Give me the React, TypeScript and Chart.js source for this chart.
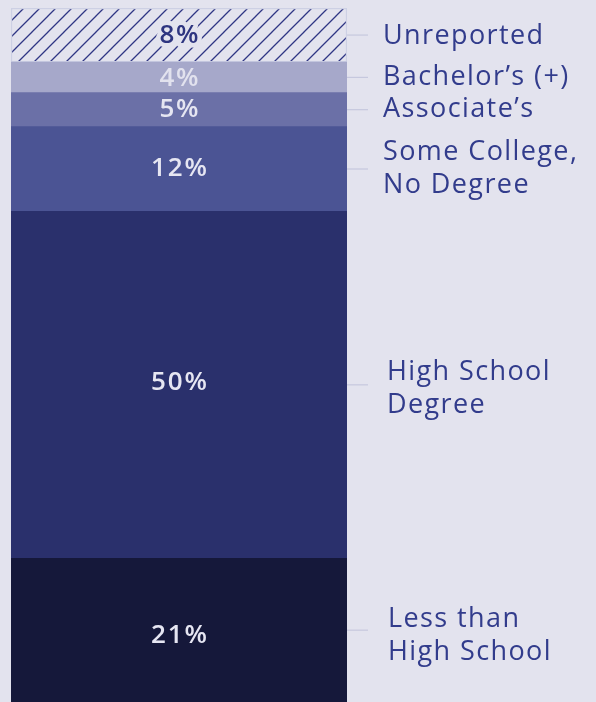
import React, { useEffect, useRef } from "react";
import { Chart, registerables } from "chart.js";

Chart.register(...registerables);

// Data, bottom of the stack first
const categories = [
  "Less than High School",
  "High School Degree",
  "Some College, No Degree",
  "Associate’s",
  "Bachelor’s (+)",
  "Unreported",
];
const labelLines = [
  ["Less than", "High School"],
  ["High School", "Degree"],
  ["Some College,", "No Degree"],
  ["Associate’s"],
  ["Bachelor’s (+)"],
  ["Unreported"],
];
const shares = [20.7, 50.0, 12.2, 4.9, 4.4, 7.8];
const percentLabels = ["21%", "50%", "12%", "5%", "4%", "8%"];

const BG = "#e3e3ee";
const fills = ["#15183a", "#2a306c", "#4b5494", "#6b70a7", "#a6a8ca", "hatch"];
const pctColors = ["#e6e6f2", "#e6e6f2", "#e6e6f2", "#e6e6f2", "#e2e2ee", "#2e3580"];
const LABEL_COLOR = "#323c8c";
const LINE_COLOR = "#c6c8de";
// small per-label nudges [dx, dy]
const labelNudge = [
  [5, 6],
  [4, 4],
  [0, 0],
  [0, 0],
  [0, 0],
  [0, 1],
];
const pctNudge = [5, -2, 0, 0, 1, 1];

function makeHatch(): CanvasPattern | string {
  const c = document.createElement("canvas");
  c.width = 16;
  c.height = 16;
  const g = c.getContext("2d");
  if (!g) return BG;
  g.fillStyle = BG;
  g.fillRect(0, 0, 16, 16);
  g.strokeStyle = "#2f3684";
  g.lineWidth = 1.3;
  g.beginPath();
  g.moveTo(-2, 18);
  g.lineTo(18, -2);
  g.moveTo(-2, 2);
  g.lineTo(2, -2);
  g.moveTo(14, 18);
  g.lineTo(18, 14);
  g.stroke();
  return g.createPattern(c, "repeat") || BG;
}

const labelPlugin = {
  id: "segLabels",
  afterDatasetsDraw(chart: any) {
    const ctx = chart.ctx;
    ctx.save();
    chart.data.datasets.forEach((_ds: any, i: number) => {
      const el: any = chart.getDatasetMeta(i).data[0];
      if (!el) return;
      const top = Math.min(el.y, el.base);
      const bot = Math.max(el.y, el.base);
      const mid = (top + bot) / 2;
      const right = el.x + el.width / 2;
      // percent text
      const sp = 1.8;
      ctx.font = "600 26px 'Open Sans'";
      (ctx as any).letterSpacing = sp + "px";
      ctx.textAlign = "center";
      ctx.textBaseline = "middle";
      const py = mid + pctNudge[i];
      if (fills[i] === "hatch") {
        ctx.strokeStyle = BG;
        ctx.lineWidth = 9;
        ctx.lineJoin = "round";
        ctx.strokeText(percentLabels[i], el.x + sp / 2, py);
      }
      ctx.fillStyle = pctColors[i];
      ctx.fillText(percentLabels[i], el.x + sp / 2, py);
      (ctx as any).letterSpacing = "0px";
      // connector
      ctx.strokeStyle = LINE_COLOR;
      ctx.lineWidth = 1.2;
      ctx.beginPath();
      ctx.moveTo(right, mid);
      ctx.lineTo(right + 21, mid);
      ctx.stroke();
      // category label
      const lines = labelLines[i];
      const lh = 33;
      ctx.font = "400 27px 'Open Sans'";
      (ctx as any).letterSpacing = "1.4px";
      ctx.fillStyle = LABEL_COLOR;
      ctx.textAlign = "left";
      const startY = mid - ((lines.length - 1) * lh) / 2 + labelNudge[i][1];
      lines.forEach((t, k) => {
        ctx.fillText(t, right + 36 + labelNudge[i][0], startY + k * lh);
      });
      (ctx as any).letterSpacing = "0px";
    });
    ctx.restore();
  },
};

export default function App() {
  const ref = useRef<HTMLCanvasElement>(null);
  useEffect(() => {
    document.body.style.background = BG;
    if (!ref.current) return;
    const hatch = makeHatch();
    const chart = new Chart(ref.current, {
      type: "bar",
      data: {
        labels: [""],
        datasets: shares.map((v, i) => ({
          label: categories[i],
          data: [v],
          backgroundColor: fills[i] === "hatch" ? hatch : fills[i],
          borderColor: fills[i] === "hatch" ? "#cdd0e4" : "rgba(0,0,0,0)",
          borderWidth: fills[i] === "hatch" ? 1.5 : 0,
          borderSkipped: false,
          barPercentage: 1,
          categoryPercentage: 1,
        })),
      },
      options: {
        responsive: false,
        animation: false,
        layout: { padding: { left: 11, right: 249, top: 8, bottom: 0 } },
        plugins: {
          legend: { display: false },
          tooltip: { enabled: false },
        },
        scales: {
          x: { stacked: true, display: false },
          y: { stacked: true, display: false, min: 0, max: 100 },
        },
      },
      plugins: [labelPlugin],
    });
    return () => chart.destroy();
  }, []);
  return (
    <div
      style={{
        position: "absolute",
        left: 0,
        top: 0,
        width: 596,
        height: 702,
        background: BG,
        overflow: "hidden",
      }}
    >
      <canvas ref={ref} width={596} height={702} style={{ display: "block" }} />
    </div>
  );
}
